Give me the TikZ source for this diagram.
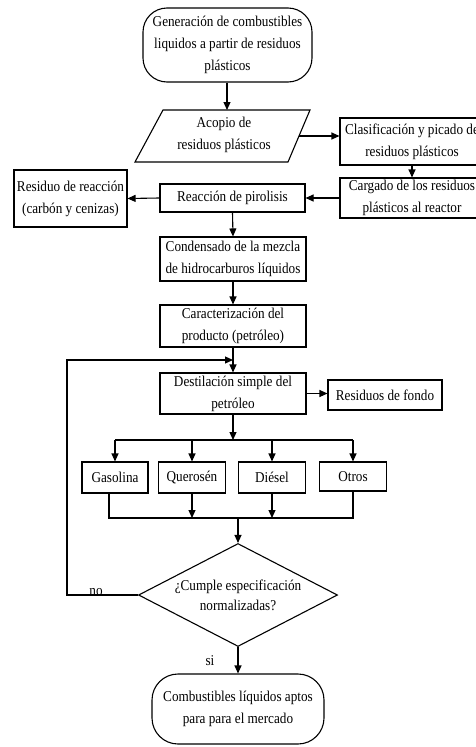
\documentclass[tikz,border=0pt]{standalone}
\usepackage{fontspec}
\setmainfont[FakeStretch=0.88]{Liberation Serif}
\usetikzlibrary{arrows.meta,shapes.geometric,calc}
\newcommand\myfs{\fontsize{15}{22}\selectfont}
\begin{document}
\begin{tikzpicture}[x=1pt,y=-1pt,
  box/.style={draw, line width=1.1pt, inner sep=0pt, align=center, font=\myfs},
  arr/.style={-{Triangle[length=8pt,width=7pt]}, line width=1.1pt},
  ln/.style={line width=1.1pt},
  lbl/.style={font=\myfs, inner sep=0pt}]
\useasboundingbox (0,0) rectangle (476,747);
\clip (0,0) rectangle (476,747);
% nodes
\node[box, rounded corners=24pt, minimum width=169pt, minimum height=74pt] (start) at (227.5,45) {Generación de combustibles\\liquidos a partir de residuos\\plásticos};
\node[lbl, align=center] (acopio) at (224,135) {Acopio de\\residuos plásticos};
\coordinate (pBL) at (135,162);
\coordinate (pTL) at (163,110);
\coordinate (pTR) at (310,110);
\coordinate (pBR) at (288,162);
\draw[ln] (pBL) -- (pTL) -- (pTR) -- (pBR) -- cycle;
\coordinate (acE) at (299,136);
\node[box, minimum width=144pt, minimum height=47pt] (clasif) at (412,141.5) {Clasificación y picado de\\residuos plásticos};
\node[box, minimum width=144pt, minimum height=40pt] (cargado) at (412,198) {Cargado de los residuos\\plásticos al reactor};
\node[box, minimum width=145pt, minimum height=28pt] (reac) at (232.5,198) {Reacción de pirolisis};
\node[box, minimum width=113pt, minimum height=57pt] (resid) at (70.5,198.5) {Residuo de reacción\\(carbón y cenizas)};
\node[box, minimum width=146pt, minimum height=44pt] (cond) at (233,259) {Condensado de la mezcla\\de hidrocarburos líquidos};
\node[box, minimum width=146pt, minimum height=42pt] (caract) at (233,326) {Caracterización del\\producto (petróleo)};
\node[box, minimum width=146pt, minimum height=41pt] (destil) at (233,393.5) {Destilación simple del\\petróleo};
\node[box, minimum width=114pt, minimum height=30pt] (fondo) at (385,395) {Residuos de fondo};
\node[box, minimum width=66pt, minimum height=31pt] (gas) at (115,477.5) {Gasolina};
\node[box, minimum width=67pt, minimum height=31pt] (quer) at (192,477.5) {Querosén};
\node[box, minimum width=67pt, minimum height=31pt] (dies) at (272,477.5) {Diésel};
\node[box, minimum width=67pt, minimum height=29pt] (otros) at (353,476.5) {Otros};
\node[draw, diamond, aspect=2, inner sep=0pt, minimum width=199pt, minimum height=103pt, line width=1.1pt, align=center, font=\fontsize{15}{20}\selectfont] (dia) at (238,595) {¿Cumple especificación\\normalizadas?};
\node[box, rounded corners=26pt, minimum width=172pt, minimum height=70pt] (fin) at (238,709) {Combustibles líquidos aptos\\para para el mercado};
\node[lbl, anchor=base] (no) at (96,595) {no};
\node[lbl, anchor=base] (si) at (210,665) {si};
% bus coordinates
\coordinate (busT) at (233,440);
\coordinate (busB) at (238,518);
\coordinate (fb) at (67,360);
% connectors
\draw[arr] (start.south -| 227,0) -- (pTL -| 227,0);
\draw[arr] (acE) -- (acE -| clasif.west);
\draw[arr] (clasif.south) -- (cargado.north);
\draw[arr] (cargado.west) -- (reac.east);
\draw[arr] (reac.west) -- (resid.east);
\draw[arr] (reac.south) -- (cond.north);
\draw[arr] (cond.south) -- (caract.north);
\draw[arr] (caract.south) -- (destil.north);
\draw[arr] (destil.east) -- (destil.east -| fondo.west);
\draw[arr] (destil.south) -- (busT);
\draw[ln] (busT -| gas.north) -- (busT -| otros.north);
\draw[arr] (busT -| gas.north) -- (gas.north);
\draw[arr] (busT -| quer.north) -- (quer.north);
\draw[arr] (busT -| dies.north) -- (dies.north);
\draw[arr] (busT -| otros.north) -- (otros.north);
\draw[ln] ($(gas.south)+(-6,0)$) |- (busB -| otros.south) -- (otros.south);
\draw[arr] (quer.south) -- (busB -| quer.south);
\draw[arr] (dies.south) -- (busB -| dies.south);
\draw[arr] (busB) -- (dia.north);
\draw[arr] (dia.west) -| (fb) -- (fb -| caract.south);
\draw[arr] (dia.south) -- (fin.north);
\end{tikzpicture}
\end{document}
